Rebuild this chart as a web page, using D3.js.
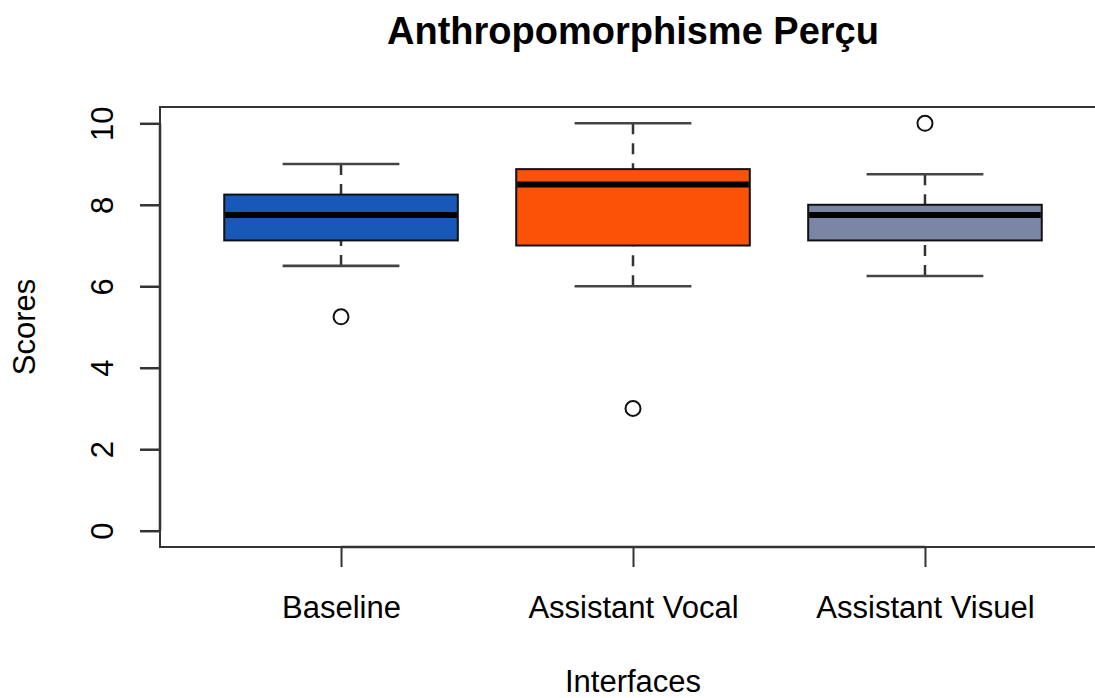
<!DOCTYPE html>
<html>
<head>
<meta charset="utf-8">
<script src="https://cdn.jsdelivr.net/npm/d3@7"></script>
<style>
  html, body { margin: 0; background: #fff; overflow: hidden; }
  svg { display: block; overflow: hidden; }
  text { font-family: "Liberation Sans", Arial, Helvetica, sans-serif; fill: #000; }
</style>
</head>
<body>
<div id="chart"></div>
<script>
// data
const groups = ["Baseline", "Assistant Vocal", "Assistant Visuel"];
const whiskerLow = [6.5, 6, 6.25];
const q1 = [7.125, 7, 7.125];
const median = [7.75, 8.5, 7.75];
const q3 = [8.25, 8.875, 8];
const whiskerHigh = [9, 10, 8.75];
const outliers = [[5.25], [3], [10]];
const fills = ["#1858b8", "#fc5207", "#7b86a6"];
const yTicks = [0, 2, 4, 6, 8, 10];

var width = 1095, height = 698;
var fontSize = 31;

var svg = d3.select("#chart").append("svg")
  .attr("width", width)
  .attr("height", height);

// R style: positions 1..n, xlim 0.5..n+0.5 stretched by 4%
var xlo = 0.5, xhi = groups.length + 0.5, ext = (xhi - xlo) * 0.04;
var x = d3.scaleLinear()
  .domain([xlo - ext, xhi + ext])
  .range([160, 1106]);

var y = d3.scaleLinear()
  .domain([-0.4, 10.4])
  .range([547, 107]);

var boxW = 0.8, capW = 0.4;

// frame (right side falls outside the picture, as in the original)
svg.append("rect")
  .attr("x", x.range()[0])
  .attr("y", y.range()[1])
  .attr("width", x.range()[1] - x.range()[0])
  .attr("height", y.range()[0] - y.range()[1])
  .attr("fill", "none")
  .attr("stroke", "#333")
  .attr("stroke-width", 2);

const boxes = svg.selectAll(".box")
  .data(groups)
  .enter().append("g")
  .attr("class", "box");

// whiskers
boxes.append("line")
  .attr("x1", (d, i) => x(i + 1))
  .attr("x2", (d, i) => x(i + 1))
  .attr("y1", (d, i) => y(whiskerHigh[i]))
  .attr("y2", (d, i) => y(q3[i]))
  .attr("stroke", "#333")
  .attr("stroke-width", 2.5)
  .attr("stroke-dasharray", "11,9");

boxes.append("line")
  .attr("x1", (d, i) => x(i + 1))
  .attr("x2", (d, i) => x(i + 1))
  .attr("y1", (d, i) => y(whiskerLow[i]))
  .attr("y2", (d, i) => y(q1[i]))
  .attr("stroke", "#333")
  .attr("stroke-width", 2.5)
  .attr("stroke-dasharray", "11,9");

// caps
[whiskerHigh, whiskerLow].forEach(arr => {
  boxes.append("line")
    .attr("x1", (d, i) => x(i + 1 - capW / 2))
    .attr("x2", (d, i) => x(i + 1 + capW / 2))
    .attr("y1", (d, i) => y(arr[i]))
    .attr("y2", (d, i) => y(arr[i]))
    .attr("stroke", "#444")
    .attr("stroke-width", 2.6);
});

// boxes
boxes.append("rect")
  .attr("x", (d, i) => x(i + 1 - boxW / 2))
  .attr("width", (d, i) => x(i + 1 + boxW / 2) - x(i + 1 - boxW / 2))
  .attr("y", (d, i) => y(q3[i]))
  .attr("height", (d, i) => y(q1[i]) - y(q3[i]))
  .attr("fill", (d, i) => fills[i])
  .attr("stroke", "#111")
  .attr("stroke-width", 2);

// medians
boxes.append("line")
  .attr("x1", (d, i) => x(i + 1 - boxW / 2) + 1)
  .attr("x2", (d, i) => x(i + 1 + boxW / 2) - 1)
  .attr("y1", (d, i) => y(median[i]))
  .attr("y2", (d, i) => y(median[i]))
  .attr("stroke", "#000")
  .attr("stroke-width", 6);

// outliers
boxes.each(function(d, i) {
  d3.select(this).selectAll("circle")
    .data(outliers[i])
    .enter().append("circle")
    .attr("cx", x(i + 1))
    .attr("cy", v => y(v))
    .attr("r", 7.5)
    .attr("fill", "#fff")
    .attr("stroke", "#111")
    .attr("stroke-width", 2);
});

// y axis
var yAxis = svg.append("g")
  .attr("transform", "translate(" + x.range()[0] + ",0)")
  .call(d3.axisLeft(y).tickValues(yTicks).tickSize(20).tickFormat(d3.format("d")));
yAxis.select(".domain")
  .attr("d", "M0," + y(yTicks[0]) + "V" + y(yTicks[yTicks.length - 1]))
  .attr("stroke", "#333").attr("stroke-width", 2.5);
yAxis.selectAll(".tick line").attr("stroke", "#333").attr("stroke-width", 2.5);
yAxis.selectAll(".tick text")
  .attr("x", null).attr("dy", null)
  .attr("transform", "translate(-47,0) rotate(-90)")
  .attr("text-anchor", "middle")
  .style("font-size", fontSize + "px")
  .style("font-family", "'Liberation Sans', Arial, sans-serif")
  .attr("fill", "#000");

// x axis
var xAxis = svg.append("g")
  .attr("transform", "translate(0," + y.range()[0] + ")")
  .call(d3.axisBottom(x).tickValues(groups.map((d, i) => i + 1)).tickSize(20).tickFormat((d) => groups[d - 1]));
xAxis.select(".domain")
  .attr("d", "M" + x(1) + ",0H" + x(groups.length))
  .attr("stroke", "#333").attr("stroke-width", 2.5);
xAxis.selectAll(".tick line").attr("stroke", "#333").attr("stroke-width", 2);
xAxis.selectAll(".tick text")
  .attr("y", 71).attr("dy", null)
  .style("font-size", fontSize + "px")
  .style("font-family", "'Liberation Sans', Arial, sans-serif")
  .attr("fill", "#000");

// titles
svg.append("text")
  .attr("x", (x.range()[0] + x.range()[1]) / 2)
  .attr("y", 44)
  .attr("text-anchor", "middle")
  .style("font-size", "38px")
  .style("font-weight", "bold")
  .text("Anthropomorphisme Perçu");

svg.append("text")
  .attr("x", (x.range()[0] + x.range()[1]) / 2)
  .attr("y", 692)
  .attr("text-anchor", "middle")
  .style("font-size", fontSize + "px")
  .text("Interfaces");

svg.append("text")
  .attr("transform", "translate(35," + ((y.range()[0] + y.range()[1]) / 2) + ") rotate(-90)")
  .attr("text-anchor", "middle")
  .style("font-size", fontSize + "px")
  .text("Scores");
</script>
</body>
</html>
